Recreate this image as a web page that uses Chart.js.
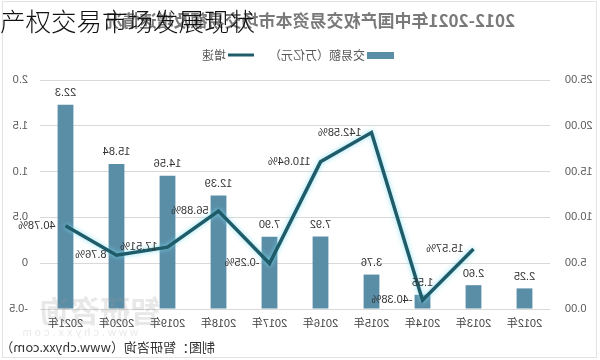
<!DOCTYPE html>
<html>
<head>
<meta charset="utf-8">
<script src="https://cdn.jsdelivr.net/npm/chart.js@4.4.1/dist/chart.umd.min.js"></script>
<style>
  html, body { margin: 0; padding: 0; background: #fff; }
  #wrap { position: relative; width: 600px; height: 360px; overflow: hidden; }
  /* the source picture is a mirrored screenshot */
  #wrap canvas { transform: scaleX(-1); }
  #overlay {
    position: absolute; left: 0; top: 5px;
    font: 25.5px/30px "Noto Sans CJK SC", sans-serif;
    font-weight: 300;
    color: #111; white-space: nowrap;
  }
</style>
</head>
<body>
<div id="wrap">
  <canvas id="c" width="600" height="360"></canvas>
  <div id="overlay">产权交易市场发展现状</div>
</div>
<script>
const years = ['2012年', '2013年', '2014年', '2015年', '2016年', '2017年', '2018年', '2019年', '2020年', '2021年'];
const amounts = [2.25, 2.60, 1.55, 3.76, 7.92, 7.90, 12.39, 14.56, 15.84, 22.3];
const amountLabels = ['2.25', '2.60', '1.55', '3.76', '7.92', '7.90', '12.39', '14.56', '15.84', '22.3'];
const growth = [null, 0.1557, -0.4038, 1.4258, 1.1064, -0.0025, 0.5688, 0.1751, 0.0876, 0.4078];
const growthLabels = ['', '15.57%', '-40.38%', '142.58%', '110.64%', '-0.25%', '56.88%', '17.51%', '8.76%', '40.78%'];

const titleText = '2012-2021年中国产权交易资本市场交易额及增速情况';
const sourceText = '制图：智研咨询（www.chyxx.com）';

Chart.defaults.font.family = '"Liberation Sans", "Noto Sans CJK SC", sans-serif';
Chart.defaults.font.size = 11;

var glow = {
  id: 'glow',
  beforeDatasetDraw: function (chart, args) {
    if (args.index === 1) {
      chart.ctx.save();
      chart.ctx.shadowColor = 'rgba(120, 220, 240, 0.85)';
      chart.ctx.shadowBlur = 5;
    }
  },
  afterDatasetDraw: function (chart, args) {
    if (args.index === 1) chart.ctx.restore();
  }
};

var valueLabels = {
  id: 'valueLabels',
  afterDatasetsDraw: function (chart) {
    const ctx = chart.ctx;
    ctx.save();
    ctx.font = '11px "Liberation Sans", sans-serif';
    ctx.fillStyle = '#333';
    ctx.textAlign = 'center';
    ctx.textBaseline = 'bottom';
    chart.getDatasetMeta(0).data.forEach(function (bar, i) {
      ctx.fillText(amountLabels[i], bar.x, bar.y - 6);
    });
    ctx.textAlign = 'left';
    ctx.textBaseline = 'middle';
    chart.getDatasetMeta(1).data.forEach(function (pt, i) {
      if (growth[i] === null) return;
      ctx.fillText(growthLabels[i], pt.x + 10, pt.y);
    });
    ctx.restore();
  }
};

var decor = {
  id: 'decor',
  afterDraw: function (chart) {
    const ctx = chart.ctx;
    ctx.save();
    // frame
    ctx.strokeStyle = '#e3e3e3';
    ctx.lineWidth = 1;
    ctx.strokeRect(3.5, 1.5, 594, 356);
    // title
    ctx.fillStyle = '#7a7a7a';
    ctx.font = 'bold 17px "Noto Sans CJK SC", sans-serif';
    ctx.textAlign = 'left';
    ctx.textBaseline = 'middle';
    ctx.fillText(titleText, 85, 21);
    // legend
    ctx.fillStyle = '#5a8ea7';
    ctx.fillRect(206, 52, 27, 7);
    ctx.fillStyle = '#595959';
    ctx.font = '12px "Noto Sans CJK SC", sans-serif';
    ctx.fillText('交易额（万亿元）', 235, 55);
    ctx.strokeStyle = '#1f5b68';
    ctx.lineWidth = 3;
    ctx.beginPath();
    ctx.moveTo(346, 55);
    ctx.lineTo(372, 55);
    ctx.stroke();
    ctx.fillText('增速', 374, 55);
    // watermark
    ctx.fillStyle = 'rgba(150, 150, 150, 0.22)';
    ctx.font = 'bold 30px "Noto Sans CJK SC", sans-serif';
    ctx.fillText('智研咨询', 440, 311);
    ctx.font = '11px "Liberation Sans", sans-serif';
    ctx.fillText('w w w . c h y x x . c o m', 462, 333);
    // source
    ctx.fillStyle = '#333';
    ctx.font = '13px "Noto Sans CJK SC", sans-serif';
    ctx.fillText(sourceText, 385, 347);
    ctx.restore();
  }
};

new Chart(document.getElementById('c'), {
  data: {
    labels: years,
    datasets: [
      {
        type: 'bar',
        label: '交易额（万亿元）',
        data: amounts,
        backgroundColor: '#5a8ea7',
        barPercentage: 0.31,
        categoryPercentage: 1,
        yAxisID: 'yBar',
        order: 2
      },
      {
        type: 'line',
        label: '增速',
        data: growth,
        borderColor: '#1f5b68',
        borderWidth: 3.5,
        pointRadius: 0,
        tension: 0,
        yAxisID: 'yRate',
        order: 1
      }
    ]
  },
  options: {
    responsive: false,
    animation: false,
    layout: { padding: { top: 80, left: 0, right: 0, bottom: 0 } },
    plugins: { legend: { display: false }, title: { display: false }, tooltip: { enabled: false } },
    scales: {
      x: {
        grid: { display: false, drawTicks: false },
        border: { display: false },
        ticks: { color: '#404040', padding: 8, maxRotation: 0 },
        afterFit: function (s) { s.height = 51; }
      },
      yBar: {
        position: 'left',
        min: 0,
        max: 25,
        grid: { color: '#d9d9d9', drawTicks: false },
        border: { display: false },
        ticks: {
          stepSize: 5,
          color: '#595959',
          padding: 15,
          callback: function (v) { return v.toFixed(2); }
        },
        afterFit: function (s) { s.width = 50; }
      },
      yRate: {
        position: 'right',
        min: -0.5,
        max: 2,
        grid: { display: false, drawTicks: false },
        border: { display: false },
        ticks: { stepSize: 0.5, color: '#595959', padding: 12 },
        afterFit: function (s) { s.width = 40; }
      }
    }
  },
  plugins: [glow, valueLabels, decor]
});
</script>
</body>
</html>
